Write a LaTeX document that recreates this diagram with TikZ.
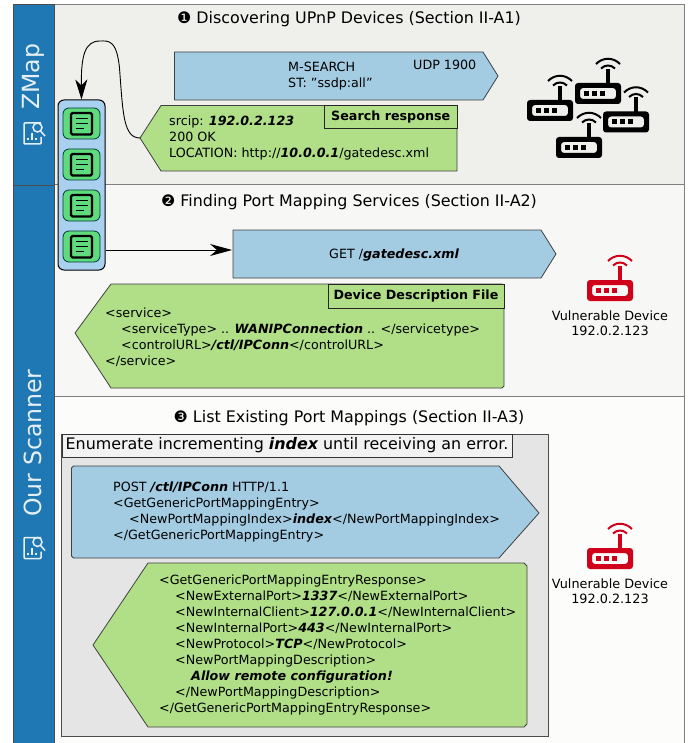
\documentclass[tikz,border=0pt]{standalone}
\usepackage{fontspec}
\setmainfont{DejaVu Sans}
\usetikzlibrary{calc,positioning,arrows.meta}
\definecolor{barblue}{HTML}{1F77B4}
\definecolor{msgblue}{HTML}{A3CCE2}
\definecolor{msggreen}{HTML}{B0DF88}
\definecolor{listblue}{HTML}{AAD0F0}
\definecolor{itemgreen}{HTML}{5FDB7E}
\definecolor{alertred}{HTML}{D0021B}
\definecolor{panelA}{HTML}{EFEFEC}
\definecolor{panelB}{HTML}{F7F7F6}
\definecolor{panelC}{HTML}{FCFCFB}
\newcommand{\key}[1]{{\bfseries\itshape #1}}
\newcommand{\ind}{\hspace*{16pt}}
\begin{document}
\begin{tikzpicture}[x=1pt, y=-1pt,
  panel/.style={draw=black!50, line width=1pt},
  bar/.style={draw=black!70, fill=barblue, line width=.8pt},
  bartext/.style={rotate=90, text=white!88!barblue, font=\fontsize{23.6}{28}\selectfont},
  title/.style={font=\fontsize{15.9}{18}\selectfont, inner sep=0pt},
  msg/.style={draw=black!75, line width=.8pt, line join=round},
  txt/.style={font=\fontsize{12.7}{16}\selectfont, align=left, inner sep=0pt, anchor=north west},
  tag/.style={draw=black!85, line width=.8pt, fill=msggreen, font=\fontsize{12.7}{14}\selectfont\bfseries, inner sep=0pt},
  device/.style={font=\fontsize{12.8}{14.5}\selectfont, align=center, inner sep=0pt},
  router/.pic={
    \fill[rounded corners=3pt, even odd rule] (-33,0) rectangle (13,21) (-28,5) rectangle (8,16);
    \fill (-1.8,-14) rectangle (1.8,1);
    \foreach \s in {-24,-16,-8}{\fill (\s,8) rectangle ++(5,5);}
    \draw[line width=2pt] (-12,-19) .. controls (-5,-26) and (5,-26) .. (12,-19);
    \draw[line width=2pt] (-7,-14.5) .. controls (-3,-18.5) and (3,-18.5) .. (7,-14.5);
  },
  docicon/.pic={
    \draw[line width=2.2pt, rounded corners=1.5pt] (-10.5,-10.5) rectangle (10.5,11);
    \draw[line width=1.7pt] (-6,-5) -- (6,-5) (-6,0) -- (6,0) (-6,5) -- (2,5);
  },
  scanicon/.pic={
    \draw[line width=1.5pt, rounded corners=1pt] (8,-9) -- (-9,-9) -- (-9,12) -- (8,12) -- (8,5);
    \draw[line width=1.5pt] (4.5,-4.5) circle (4.5);
    \draw[line width=1.5pt] (7.5,-1) -- (12,4);
    \draw[line width=1.5pt] (-5,6) -- (-5,8.5) (-1,1) -- (-1,8.5) (3,6) -- (3,8.5);
  }]
\useasboundingbox (0,0) rectangle (694,743);
%panels
\filldraw[panel, fill=panelA] (54,4.5) rectangle (684,184.5);
\filldraw[panel, fill=panelB] (54,184.5) rectangle (684,396);
\filldraw[panel, fill=panelC] (54,396) rectangle (684,750);
\filldraw[bar] (13,4.5) rectangle (54,185);
\filldraw[bar] (13,185) rectangle (54,750);
\node[bartext] (zmapLabel) at (33,77) {ZMap};
\node[bartext] (scannerLabel) at (33,443) {Our Scanner};
\path[draw=white!88!barblue] (33,132) pic {scanicon};
\path[draw=white!88!barblue] (33,546.5) pic {scanicon};
\node[title] (titleA) at (349,19) {❶ Discovering UPnP Devices (Section II-A1)};
\node[title] (titleB) at (349,202) {❷ Finding Port Mapping Services (Section II-A2)};
\node[title] (titleC) at (349,418) {❸ List Existing Port Mappings (Section II-A3)};
%step 1
\filldraw[msg, fill=msgblue] (174.5,52) -- (483,52) -- (498,76) -- (483,100) -- (174.5,100) -- cycle;
\node[txt] (searchText) at (288,62) {M-SEARCH\\ST: "ssdp:all"};
\node[txt] (searchPort) at (413,60) {UDP 1900};
\filldraw[msg, fill=msggreen] (161,105.5) -- (457,105.5) -- (457,171) -- (161,171) -- (140,138) -- cycle;
\coordinate (replyTip) at (140,138);
\node[tag, minimum width=132.5pt, minimum height=22.5pt] (replyTag) at (390.75,117) {Search response};
\node[txt] (replyText) at (169,116) {srcip: \key{192.0.2.123}\\200 OK\\LOCATION: http://\key{10.0.0.1}/gatedesc.xml};
\path (527+33,100) pic {router};
\path (575+33,83) pic {router};
\path (603+33,111.5) pic {router};
\path (556+33,137) pic {router};
%step 2
\filldraw[msg, fill=msgblue] (233,230) -- (541,230) -- (556,254) -- (541,278) -- (233,278) -- cycle;
\coordinate (getLeft) at (232,250);
\node[txt] (getText) at (329,249) {GET /\key{gatedesc.xml}};
\filldraw[msg, fill=msggreen] (111,284) -- (502,284) -- (504,286) -- (504,386) -- (502,388) -- (111,388) -- (75,333) -- cycle;
\node[tag, minimum width=176pt, minimum height=24.5pt] (descTag) at (416,296.25) {Device Description File};
\node[txt] (descText) at (105,308) {<service>\\\ind<serviceType> .. \key{WANIPConnection} .. </servicetype>\\\ind<controlURL>\key{/ctl/IPConn}</controlURL>\\</service>};
\path[alertred] (620,280) pic {router};
\node[device] (deviceA) at (610,323) {Vulnerable Device\\192.0.2.123};
%step 3
\filldraw[panel, draw=black!70, fill=black!10] (61.5,434) rectangle (548,736);
\node[draw=black!80, line width=.8pt, fill=black!5, minimum width=450pt, minimum height=23pt, inner sep=0pt, font=\fontsize{15.9}{18}\selectfont] (loopTag) at (287,445.5) {Enumerate incrementing \key{index} until receiving an error.};
\filldraw[msg, fill=msgblue] (73.5,466) -- (499,466) -- (539,513) -- (499,558) -- (73.5,558) -- (71.5,556) -- (71.5,468) -- cycle;
\node[txt] (postText) at (113,482) {POST \key{/ctl/IPConn} HTTP/1.1\\<GetGenericPortMappingEntry>\\\ind<NewPortMappingIndex>\key{index}</NewPortMappingIndex>\\</GetGenericPortMappingEntry>};
\filldraw[msg, fill=msggreen] (148,563) -- (524,563) -- (527,566) -- (527,724) -- (524,727) -- (148,727) -- (93,645) -- cycle;
\node[txt] (respText) at (159,575) {<GetGenericPortMappingEntryResponse>\\\ind<NewExternalPort>\key{1337}</NewExternalPort>\\\ind<NewInternalClient>\key{127.0.0.1}</NewInternalClient>\\\ind<NewInternalPort>\key{443}</NewInternalPort>\\\ind<NewProtocol>\key{TCP}</NewProtocol>\\\ind<NewPortMappingDescription>\\\ind\ind\key{Allow remote configuration!}\\\ind</NewPortMappingDescription>\\</GetGenericPortMappingEntryResponse>};
\path[alertred] (620,548) pic {router};
\node[device] (deviceB) at (610,591) {Vulnerable Device\\192.0.2.123};
%scanner list
\node[draw=black, line width=1pt, fill=listblue, rounded corners=6pt, minimum width=47pt, minimum height=170pt, inner sep=0pt] (scanList) at (81.5,185) {};
\foreach \i/\y in {1/123.5, 2/164.5, 3/205.5, 4/246.5}{
  \node[draw=black!55!teal, line width=.8pt, fill=itemgreen, rounded corners=6pt, minimum width=37pt, minimum height=31pt, inner sep=0pt] (item\i) at (81.5,\y) {};
  \path (item\i.center) pic {docicon};
}
%connectors
\draw[line width=.9pt, -{Stealth[length=20pt, width=12pt, inset=6pt]}] (replyTip) .. controls (124,138) and (123,115) .. (120,75) .. controls (118,38) and (108,41) .. (100,41) .. controls (85,41) and (81,55) .. (scanList.north);
\draw[line width=.9pt, -{Stealth[length=22pt, width=12pt, inset=7pt]}] (scanList.east |- getLeft) -- (getLeft);
\end{tikzpicture}
\end{document}
